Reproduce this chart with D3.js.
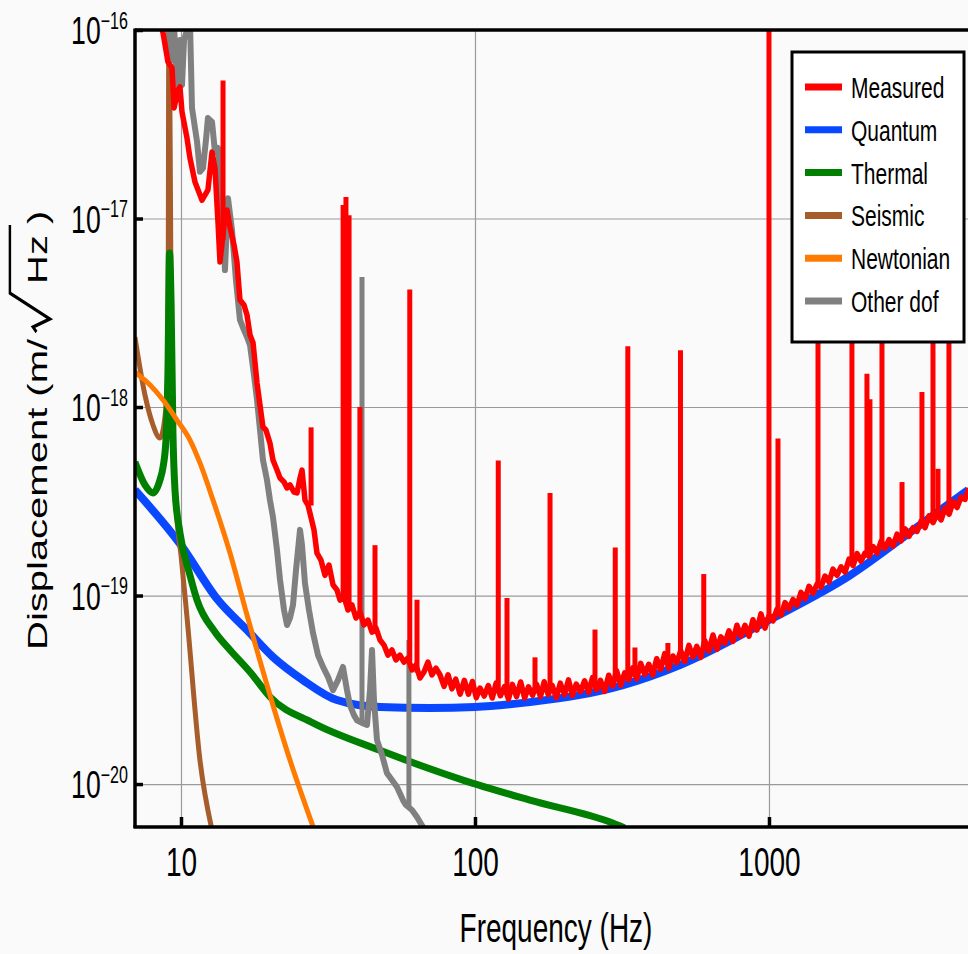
<!DOCTYPE html>
<html lang="en">
<head>
<meta charset="UTF-8" />
<title>Displacement noise budget</title>
<script src="https://cdnjs.cloudflare.com/ajax/libs/d3/7.9.0/d3.min.js"></script>
<style>
    body { margin: 0; background: #fafafa; }
    svg { display: block; }
    .lbl { font-family: "Liberation Sans", Arial, sans-serif; fill: #000; }
    .grid line { stroke: #9a9a9a; stroke-width: 1.2px; }
    .grid path, .ticks path { display: none; }
    .ticks line { stroke: #000; stroke-width: 3.5px; }
    .series { fill: none; stroke-linejoin: round; stroke-linecap: butt; }
</style>
</head>
<body>
<svg width="968" height="954"></svg>
<script>
// ---- data: [frequency Hz, displacement m/sqrt(Hz)] ----
const quantum = [[6.97,3.63e-19],[10,1.85e-19],[13.36,9.46e-20],[16.77,6.56e-20],[20.55,4.72e-20],[26.0,3.56e-20],
    [33.9,2.79e-20],[47.5,2.56e-20],[70.3,2.53e-20],[100,2.56e-20],[153.8,2.72e-20],[227.6,2.97e-20],[318.8,3.35e-20],
    [498,4.28e-20],[1000,7.41e-20],[1887,1.28e-19],[3263,2.37e-19],[4753,3.63e-19]];

const thermal = [[6.97,5.11e-19],[7.54,3.86e-19],[8.03,3.50e-19],[8.48,4.10e-19],[8.69,4.81e-19],[8.89,6.68e-19],
    [9.03,1.57e-18],[9.14,6.56e-18],[9.25,3.70e-18],[9.39,7.28e-19],[9.54,3.63e-19],[9.92,2.15e-19],[10.73,1.28e-19],
    [11.34,9.46e-20],[13.05,6.40e-20],[14.68,5.14e-20],[17.17,3.93e-20],[20.07,2.90e-20],[28.1,2.11e-20],[47.5,1.51e-20],
    [91,1.05e-20],[153.8,8.22e-21],[294,6.21e-21],[323,5.85e-21]];

const seismic = [[6.97,2.35e-18],[7.54,1.16e-18],[8.03,8.03e-19],[8.48,6.85e-19],[8.82,8.85e-19],[9.03,1.57e-18],
    [9.1,2e-16],[9.25,3.70e-18],[9.39,6.68e-19],[9.69,2.52e-19],[10,1.64e-19],[10.48,7.69e-20],[11.6,1.34e-20],[12.75,5.7e-21]];

const newtonian = [[6.97,1.53e-18],[7.85,1.31e-18],[8.69,1.09e-18],[9.69,8.53e-19],[10.73,6.68e-19],[11.6,5.05e-19],
    [12.85,3.21e-19],[14.68,1.68e-19],[16.77,7.88e-20],[20.07,2.97e-20],[23.48,1.34e-20],[28.1,5.98e-21]];

const otherDof = [[9.03,1.13e-16],[9.32,6.93e-17],[9.47,1.06e-16],[9.69,4.81e-17],[9.92,8.85e-17],[10.08,5.11e-17],
    [10.24,8.85e-17],[10.48,1.0e-16],[10.73,1.1e-16],[10.9,3.86e-17],[11.34,2.55e-17],[11.6,1.77e-17],[11.88,1.85e-17],
    [12.16,2.61e-17],[12.35,3.41e-17],[12.75,3.25e-17],[13.05,2.25e-17],[13.36,2.37e-17],[13.79,1.25e-17],[14.11,5.33e-18],
    [14.45,1.28e-17],[14.91,8.69e-18],[15.38,4.72e-18],[15.87,2.9e-18],[16.38,2.56e-18],[16.77,2.35e-18],[17.17,2.13e-18],
    [17.71,1.48e-18],[18.14,1.09e-18],[18.57,7.55e-19],[19.0,5.24e-19],[19.61,4.1e-19],[20.07,3.21e-19],[20.55,2.61e-19],
    [21.21,1.74e-19],[21.72,1.21e-19],[22.41,8.38e-20],[22.94,6.98e-20],[23.48,7.6e-20],[24.04,8.91e-20],[24.62,1.37e-19],
    [25.4,2.23e-19],[25.8,1.85e-19],[26.41,1.16e-19],[27.25,8.38e-20],[28.12,6.33e-20],[29.24,4.83e-20],[30.41,4.18e-20],
    [31.62,3.7e-20],[32.89,3.15e-20],[34.2,3.56e-20],[35.56,4.18e-20],[36.69,3.15e-20],[37.56,2.62e-20],[38.76,2.32e-20],
    [39.68,2.18e-20],[41.27,2.11e-20],[42.92,2.06e-20],[43.95,3.15e-20],[44.64,5.14e-20],[45.33,2.79e-20],[46.42,1.71e-20],
    [48.27,1.43e-20],[50.2,1.14e-20],[52.2,1.05e-20],[54.28,9.64e-21],[56.89,8.22e-21],[58.22,7.74e-21],[61.04,7.28e-21],
    [63.48,6.68e-21],[66.54,5.91e-21],[69.19,5.56e-21]];
// narrow lines in other dof: [Hz, base, top]
const otherDofLines = [[41.27,2.11e-20,4.89e-18],[59.6,7.6e-21,5.81e-20]];

const measured = [[8.48,1.1e-16],[8.69,9.64e-17],[9.03,6.76e-17],[9.32,6.29e-17],[9.47,3.86e-17],[9.77,4.81e-17],
    [9.92,4.99e-17],[10.08,3.67e-17],[10.48,2.67e-17],[10.73,2.09e-17],[11.16,1.56e-17],[11.79,1.25e-17],[12.35,1.42e-17],
    [12.75,2.25e-17],[13.05,1.85e-17],[13.36,9.58e-18],[13.57,5.88e-18],[14.01,9.24e-18],[14.34,1.11e-17],[14.68,9.01e-18],
    [15.15,7.23e-18],[15.5,5.88e-18],[15.87,3.7e-18],[16.38,3.48e-18],[16.77,3.08e-18],[17.17,2.41e-18],[17.58,2.19e-18],
    [18.14,1.34e-18],[18.57,1.02e-18],[19.0,7.83e-19],[19.45,7.55e-19],[20.07,6.44e-19],[20.55,5.24e-19],[21.21,4.63e-19],
    [21.72,4.2e-19],[22.41,4.0e-19],[22.94,3.72e-19],[23.48,3.86e-19],[24.23,3.54e-19],[24.81,3.5e-19],[25.4,4.2e-19],
    [25.8,4.63e-19],[26.41,3.21e-19],[27.04,3.02e-19],[28.34,2.23e-19],[29.01,1.68e-19],[29.94,1.54e-19],[30.89,1.28e-19],
    [31.87,1.45e-19],[32.89,1.14e-19],[33.93,1.07e-19],[34.74,9.46e-20],[35.84,9.94e-20],[36.98,8.38e-20],[38.16,8.91e-20],
    [39.37,7.6e-20],[40.62,8.17e-20],[41.91,6.98e-20],[43.26,7.41e-20],[44.64,6.4e-20],[46.05,6.72e-20],[47.52,5.81e-20],
    [49.03,5.46e-20],[50.59,4.83e-20],[52.2,5.14e-20],[53.86,4.55e-20],[55.57,4.83e-20],[57.34,4.44e-20],[59.16,4.66e-20],
    [61.04,4.03e-20],[62.98,4.28e-20],[64.99,3.65e-20],[67.06,3.93e-20],[69.19,4.44e-20],[71.39,3.79e-20],[73.66,4.12e-20],
    [76,3.8e-20],[78.5,3.3e-20],[81,3.8e-20],[83.5,3.2e-20],[86,3.6e-20],[89,3.0e-20],[92,3.55e-20],[95,3.0e-20],
    [98,3.5e-20],[101,2.87e-20],[104,3.23e-20],[107.5,2.93e-20],[111,3.33e-20],[114.5,2.86e-20],[118,3.43e-20],[122,2.94e-20],
    [126,3.29e-20],[130,2.82e-20],[134,3.38e-20],[138.5,2.91e-20],[143,3.48e-20],[147.5,2.86e-20],[152,3.28e-20],[157,2.96e-20],
    [162,3.38e-20],[167,2.91e-20],[172,3.49e-20],[177.5,2.98e-20],[183,3.34e-20],[189,2.87e-20],[195,3.43e-20],[201.5,2.98e-20],
    [208,3.57e-20],[214.5,2.95e-20],[221,3.39e-20],[228.5,3.09e-20],[236,3.53e-20],[243.5,3.06e-20],[251,3.67e-20],[259,3.16e-20],
    [267,3.55e-20],[276,3.1e-20],[285,3.78e-20],[294,3.31e-20],[303,4.0e-20],[313,3.34e-20],[323,3.89e-20],[333.5,3.57e-20],
    [344,4.13e-20],[355,3.61e-20],[366,4.37e-20],[378,3.81e-20],[390,4.32e-20],[402.5,3.79e-20],[415,4.62e-20],[428,4.05e-20],
    [442,4.92e-20],[456,4.11e-20],[471,4.78e-20],[486,4.4e-20],[501,5.1e-20],[517,4.47e-20],[534,5.44e-20],[551,4.73e-20],
    [568,5.37e-20],[586,4.7e-20],[605,5.76e-20],[625,5.08e-20],[645,6.18e-20],[665,5.18e-20],[686,6.04e-20],[708,5.59e-20],
    [731,6.49e-20],[754,5.71e-20],[778,6.96e-20],[803,6.09e-20],[829,6.95e-20],[855,6.09e-20],[882,7.44e-20],[910,6.56e-20],
    [939,8.0e-20],[969,6.72e-20],[1000,7.83e-20],[1032,7.33e-20],[1065,8.46e-20],[1099,7.86e-20],[1134,9.17e-20],[1170,8.51e-20],
    [1207,9.53e-20],[1246,8.9e-20],[1285,1.04e-19],[1326,9.6e-20],[1368,1.12e-19],[1412,1.03e-19],[1457,1.15e-19],[1503,1.11e-19],
    [1551,1.27e-19],[1600,1.18e-19],[1651,1.38e-19],[1704,1.28e-19],[1758,1.42e-19],[1814,1.33e-19],[1872,1.56e-19],[1932,1.44e-19],
    [1993,1.67e-19],[2056,1.52e-19],[2122,1.68e-19],[2190,1.61e-19],[2260,1.82e-19],[2332,1.68e-19],[2406,1.94e-19],[2482,1.78e-19],
    [2561,1.98e-19],[2643,1.83e-19],[2727,2.12e-19],[2814,1.95e-19],[2904,2.26e-19],[2996,2.06e-19],[3091,2.29e-19],[3190,2.19e-19],
    [3291,2.48e-19],[3396,2.29e-19],[3504,2.65e-19],[3616,2.44e-19],[3731,2.71e-19],[3850,2.52e-19],[3973,2.92e-19],[4100,2.7e-19],
    [4230,3.15e-19],[4363,2.93e-19],[4500,3.33e-19],[4643,3.24e-19],[4790,3.71e-19]];
// narrow lines in the measured spectrum: [Hz, base, top]
const measuredLines = [[13.9,7.7e-18,5.4e-17],[27.7,3.0e-19,7.8e-19],[35.6,9.5e-20,1.18e-17],[36.4,9.0e-20,1.3e-17],
    [37.3,8.5e-20,1.04e-17],[40.6,7.9e-20,1.0e-18],[45.7,6.6e-20,1.85e-19],[60,4.5e-20,4.2e-18],[63.5,3.9e-20,9.5e-20],
    [120,3.1e-20,5.2e-19],[128.5,3.1e-20,9.7e-20],[160,3.1e-20,4.7e-20],[180,3.1e-20,3.5e-19],[256,3.3e-20,6.6e-20],
    [300,3.5e-20,1.8e-19],[331,3.7e-20,2.1e-18],[350,3.8e-20,5.3e-20],[453,4.4e-20,5.6e-20],[500,4.7e-20,2.0e-18],
    [600,5.2e-20,1.3e-19],[1000,7.4e-20,1.2e-16],[1073,8.0e-20,6.8e-19],[1468,1.1e-19,1.5e-17],[1915,1.5e-19,1.5e-17],
    [2154,1.6e-19,1.5e-18],[2205,1.7e-19,1.1e-18],[2423,1.8e-19,1.5e-17],[2835,2.1e-19,4.0e-19],[3314,2.35e-19,1.2e-18],
    [3613,2.55e-19,1.5e-17],[3757,2.6e-19,4.7e-19],[4094,2.85e-19,1.5e-17]];

const xTicks = [10, 100, 1000];
const xTickLabels = ["10", "100", "1000"];
const yTicks = [1e-16, 1e-17, 1e-18, 1e-19, 1e-20];
const yTickExps = ["\u221216", "\u221217", "\u221218", "\u221219", "\u221220"];
const legendNames = ["Measured", "Quantum", "Thermal", "Seismic", "Newtonian", "Other dof"];
const legendColors = ["#ff0000", "#0a48ff", "#007f00", "#a65d2b", "#ff7a00", "#808080"];

// ---- layout ----
const plot = { left: 135, right: 968, top: 30, bottom: 826 };
const squeeze = 0.7; // glyphs in the figure are narrowed

const x = d3.scaleLog().domain([6.975, 4753]).range([plot.left, plot.right]);
const y = d3.scaleLog().domain([5.99e-21, 1e-16]).range([plot.bottom, plot.top]);

const svg = d3.select("svg");
svg.append("rect").attr("width", 968).attr("height", 954).attr("fill", "#fafafa");

svg.append("defs").append("clipPath").attr("id", "clip")
    .append("rect")
    .attr("x", plot.left).attr("y", plot.top)
    .attr("width", plot.right - plot.left).attr("height", plot.bottom - plot.top);

// grid
svg.append("g").attr("class", "grid")
    .attr("transform", `translate(0,${plot.bottom})`)
    .call(d3.axisBottom(x).tickValues(xTicks).tickSize(-(plot.bottom - plot.top)).tickFormat(""));
svg.append("g").attr("class", "grid")
    .attr("transform", `translate(${plot.left},0)`)
    .call(d3.axisLeft(y).tickValues(yTicks.slice(1)).tickSize(-(plot.right - plot.left)).tickFormat(""));

// series
const line = d3.line().x((d) => x(d[0])).y((d) => y(d[1]));
const smooth = d3.line().x((d) => x(d[0])).y((d) => y(d[1])).curve(d3.curveMonotoneX);
const plotG = svg.append("g").attr("clip-path", "url(#clip)");

const drawSeries = (data, color, width, gen) => {
    plotG.append("path").datum(data).attr("class", "series")
        .attr("stroke", color).attr("stroke-width", width).attr("d", gen);
};
const drawLines = (data, color, width) => {
    plotG.append("g").selectAll("path").data(data).join("path")
        .attr("class", "series").attr("stroke", color).attr("stroke-width", width)
        .attr("d", (d) => line([[d[0], d[1]], [d[0], d[2]]]));
};

drawSeries(quantum, legendColors[1], 8, smooth);
drawSeries(seismic, legendColors[3], 5, smooth);
drawSeries(thermal, legendColors[2], 7, smooth);
drawSeries(newtonian, legendColors[4], 5, smooth);
drawSeries(otherDof, legendColors[5], 6, line);
drawLines(otherDofLines, legendColors[5], 5);
drawSeries(measured, legendColors[0], 5.5, line);
drawLines(measuredLines, legendColors[0], 5);

// frame
const frame = svg.append("g").attr("stroke", "#000").attr("stroke-width", 3.5);
frame.append("line").attr("x1", plot.left).attr("x2", plot.right).attr("y1", plot.top).attr("y2", plot.top);
frame.append("line").attr("x1", plot.left).attr("x2", plot.left).attr("y1", plot.top - 1.5).attr("y2", plot.bottom + 2);
frame.append("line").attr("x1", plot.left - 1.5).attr("x2", plot.right).attr("y1", plot.bottom + 1).attr("y2", plot.bottom + 1);

// ticks + labels
const narrowText = (g, tx, ty, size, anchor) =>
    g.append("g").attr("transform", `translate(${tx},${ty}) scale(${squeeze},1)`)
        .append("text").attr("class", "lbl").attr("font-size", size).attr("text-anchor", anchor);

const xAxis = svg.append("g").attr("class", "ticks")
    .attr("transform", `translate(0,${plot.bottom})`)
    .call(d3.axisBottom(x).tickValues(xTicks).tickSize(-9).tickFormat(""));
xAxis.selectAll(".tick").each(function (d, i) {
    narrowText(d3.select(this), 0, 50, 40, "middle").text(xTickLabels[i]);
});

const yAxis = svg.append("g").attr("class", "ticks")
    .attr("transform", `translate(${plot.left},0)`)
    .call(d3.axisLeft(y).tickValues(yTicks).tickSize(-8).tickFormat(""));
yAxis.selectAll(".tick").each(function (d, i) {
    const t = narrowText(d3.select(this), -7, 13.5, 38, "end");
    t.append("tspan").text("10");
    t.append("tspan").attr("font-size", 23).attr("dy", -15.5).text(yTickExps[i]);
});

// axis titles
narrowText(svg, 556, 942, 40, "middle").text("Frequency (Hz)");

const yTitle = svg.append("g").attr("transform", `translate(47,650) rotate(-90) scale(1,${squeeze})`);
yTitle.append("text").attr("class", "lbl").attr("font-size", 40).attr("x", 0).text("Displacement (m/");
yTitle.append("path")
    .attr("d", "M318,-15 L323,-20 L331,4 L357,-53 L425,-53")
    .attr("fill", "none").attr("stroke", "#000").attr("stroke-width", 3.5);
yTitle.append("text").attr("class", "lbl").attr("font-size", 40).attr("x", 366).text("Hz");
yTitle.append("text").attr("class", "lbl").attr("font-size", 40).attr("x", 426).text(")");

// legend
const legend = svg.append("g").attr("transform", "translate(792,52)");
legend.append("rect").attr("width", 172).attr("height", 290)
    .attr("fill", "#fff").attr("stroke", "#000").attr("stroke-width", 3);
legendNames.forEach((name, i) => {
    const cy = 35 + i * 42.8;
    legend.append("line").attr("x1", 13).attr("x2", 50).attr("y1", cy).attr("y2", cy)
        .attr("stroke", legendColors[i]).attr("stroke-width", 7);
    narrowText(legend, 59, cy + 11, 30, "start").text(name);
});
</script>
</body>
</html>
